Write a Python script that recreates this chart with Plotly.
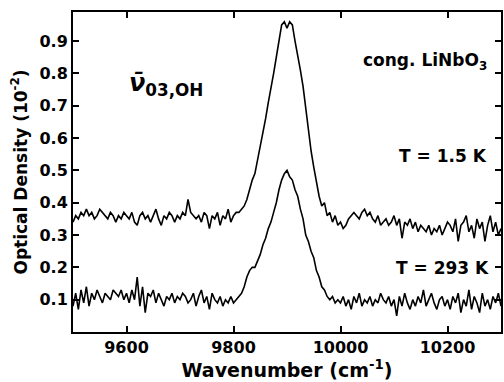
import plotly.graph_objects as go

# wavenumber grid (cm^-1), 5 cm^-1 spacing
wavenumber = [9500 + 5 * i for i in range(161)]

# optical density (10^-2), T = 1.5 K
od_1p5K = [
    0.34, 0.36, 0.35, 0.37, 0.36, 0.38, 0.36, 0.37, 0.35, 0.36, 0.38, 0.37, 0.36, 0.35, 0.37, 0.36, 0.34, 0.36, 0.35, 0.37,
    0.36, 0.35, 0.37, 0.34, 0.33, 0.36, 0.37, 0.35, 0.36, 0.34, 0.36, 0.38, 0.35, 0.33, 0.36, 0.35, 0.37, 0.36, 0.34, 0.36,
    0.35, 0.37, 0.36, 0.41, 0.37, 0.36, 0.35, 0.36, 0.34, 0.37, 0.36, 0.32, 0.36, 0.35, 0.37, 0.33, 0.36, 0.35, 0.38, 0.34,
    0.36, 0.37, 0.37, 0.38, 0.39, 0.41, 0.44, 0.47, 0.49, 0.53, 0.58, 0.62, 0.66, 0.71, 0.75, 0.80, 0.85, 0.90, 0.95, 0.96,
    0.94, 0.96, 0.95, 0.90, 0.86, 0.81, 0.76, 0.69, 0.63, 0.56, 0.51, 0.46, 0.42, 0.39, 0.40, 0.36, 0.37, 0.34, 0.36, 0.33,
    0.34, 0.32, 0.33, 0.35, 0.36, 0.37, 0.36, 0.35, 0.37, 0.38, 0.36, 0.37, 0.35, 0.34, 0.36, 0.33, 0.34, 0.35, 0.33, 0.34,
    0.36, 0.33, 0.35, 0.29, 0.34, 0.33, 0.35, 0.32, 0.34, 0.31, 0.33, 0.32, 0.31, 0.33, 0.30, 0.32, 0.31, 0.33, 0.30, 0.32,
    0.34, 0.33, 0.31, 0.35, 0.28, 0.33, 0.34, 0.36, 0.31, 0.33, 0.29, 0.35, 0.32, 0.34, 0.28, 0.33, 0.36, 0.31, 0.34, 0.30,
    0.32,
]

# optical density (10^-2), T = 293 K
od_293K = [
    0.08, 0.12, 0.07, 0.13, 0.09, 0.14, 0.08, 0.12, 0.10, 0.13, 0.11, 0.09, 0.12, 0.11, 0.10, 0.13, 0.12, 0.11, 0.13, 0.10,
    0.12, 0.09, 0.13, 0.10, 0.17, 0.08, 0.14, 0.06, 0.12, 0.11, 0.13, 0.09, 0.12, 0.10, 0.08, 0.11, 0.10, 0.12, 0.09, 0.11,
    0.10, 0.12, 0.11, 0.09, 0.10, 0.12, 0.08, 0.11, 0.13, 0.09, 0.11, 0.07, 0.12, 0.10, 0.09, 0.11, 0.08, 0.10, 0.09, 0.11,
    0.09, 0.10, 0.11, 0.12, 0.14, 0.17, 0.19, 0.20, 0.20, 0.22, 0.24, 0.27, 0.29, 0.32, 0.34, 0.37, 0.40, 0.44, 0.47, 0.49,
    0.50, 0.48, 0.47, 0.44, 0.42, 0.38, 0.35, 0.30, 0.28, 0.25, 0.23, 0.19, 0.17, 0.14, 0.13, 0.11, 0.10, 0.11, 0.09, 0.10,
    0.09, 0.11, 0.08, 0.10, 0.07, 0.11, 0.09, 0.12, 0.08, 0.10, 0.09, 0.11, 0.08, 0.10, 0.09, 0.12, 0.10, 0.09, 0.11, 0.08,
    0.10, 0.05, 0.11, 0.08, 0.12, 0.09, 0.07, 0.10, 0.08, 0.11, 0.09, 0.13, 0.08, 0.10, 0.12, 0.09, 0.07, 0.10, 0.11, 0.08,
    0.10, 0.07, 0.11, 0.09, 0.12, 0.06, 0.10, 0.08, 0.13, 0.07, 0.11, 0.09, 0.06, 0.12, 0.08, 0.10, 0.07, 0.11, 0.09, 0.12,
    0.08,
]

x_ticks = [9600, 9800, 10000, 10200]
x_ticklabels = ["9600", "9800", "10000", "10200"]
y_ticks = [0.1, 0.2, 0.3, 0.4, 0.5, 0.6, 0.7, 0.8, 0.9]
y_ticklabels = ["0.1", "0.2", "0.3", "0.4", "0.5", "0.6", "0.7", "0.8", "0.9"]

FONT = "DejaVu Sans"

fig = go.Figure()
for ys in (od_1p5K, od_293K):
    fig.add_trace(go.Scatter(x=wavenumber, y=ys, mode="lines",
                             line=dict(color="black", width=1.6),
                             showlegend=False, hoverinfo="skip"))

axis_common = dict(showline=True, linecolor="black", linewidth=2, mirror="ticks",
                   ticks="inside", ticklen=6, tickwidth=2, tickcolor="black",
                   showgrid=False, zeroline=False,
                   tickfont=dict(family=FONT, size=16, color="black", weight="bold"))

fig.update_xaxes(range=[9500, 10300], tickvals=x_ticks, ticktext=x_ticklabels,
                 title=dict(text="Wavenumber (cm<sup>-1</sup>)",
                            font=dict(family=FONT, size=19, color="black", weight="bold"),
                            standoff=4),
                 **axis_common)
fig.update_yaxes(range=[0, 0.99], tickvals=y_ticks, ticktext=y_ticklabels,
                 title=dict(text="Optical Density (10<sup>-2</sup>)",
                            font=dict(family=FONT, size=17, color="black", weight="bold"),
                            standoff=8),
                 **axis_common)

ann_font = dict(family=FONT, size=17, color="black", weight="bold")
fig.add_annotation(x=9600, y=0.765, xanchor="left", yanchor="middle", showarrow=False,
                   text="<i>ν̄</i><sub>03,OH</sub>",
                   font=dict(family=FONT, size=24, color="black", weight="bold"))
fig.add_annotation(x=10278, y=0.838, xanchor="right", yanchor="middle", showarrow=False,
                   text="cong. LiNbO<sub>3</sub>", font=ann_font)
fig.add_annotation(x=10278, y=0.545, xanchor="right", yanchor="middle", showarrow=False,
                   text="T = 1.5 K", font=ann_font)
fig.add_annotation(x=10282, y=0.198, xanchor="right", yanchor="middle", showarrow=False,
                   text="T = 293 K", font=ann_font)

fig.update_layout(width=504, height=382, margin=dict(l=73, r=1, t=12, b=50),
                  paper_bgcolor="white", plot_bgcolor="white")

fig.write_html("out.html")
